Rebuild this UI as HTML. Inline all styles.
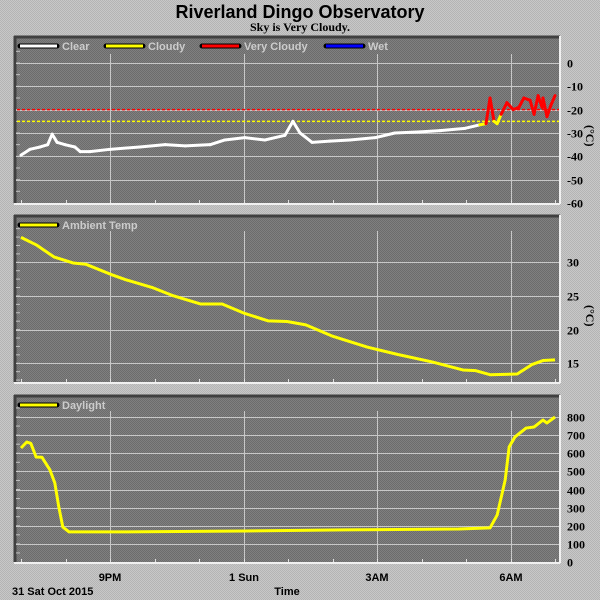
<!DOCTYPE html>
<html><head><meta charset="utf-8"><style>
html,body{margin:0;padding:0;background:#c0c0c0}
svg{display:block}
.lbl{font-family:"Liberation Serif",serif;font-weight:bold;font-size:12px;fill:#000}
.leg{font-family:"Liberation Sans",sans-serif;font-weight:bold;font-size:11px;fill:#cccccc}
.ax{font-family:"Liberation Sans",sans-serif;font-weight:bold;font-size:11px;fill:#000}
</style></head><body>
<svg id="chart" width="600" height="600" xmlns="http://www.w3.org/2000/svg">
<defs><pattern id="dith" width="2" height="2" patternUnits="userSpaceOnUse"><rect width="2" height="2" fill="#808080"/><rect width="1" height="1" fill="#6c6c6c"/><rect x="1" y="1" width="1" height="1" fill="#6c6c6c"/></pattern>
<pattern id="bgd" width="2" height="2" patternUnits="userSpaceOnUse"><rect width="2" height="2" fill="#c8c8c8"/><rect width="1" height="1" fill="#b4b4b4"/><rect x="1" y="1" width="1" height="1" fill="#b4b4b4"/></pattern></defs>
<rect width="600" height="600" fill="url(#bgd)"/>
<text x="300" y="18" text-anchor="middle" style="font-family:'Liberation Sans',sans-serif;font-weight:bold;font-size:18px">Riverland Dingo Observatory</text>
<text x="300" y="31" text-anchor="middle" style="font-family:'Liberation Serif',serif;font-weight:bold;font-size:12px">Sky is Very Cloudy.</text>
<g id="layer"></g>
<text x="110" y="581" text-anchor="middle" class="ax">9PM</text>
<text x="244" y="581" text-anchor="middle" class="ax">1 Sun</text>
<text x="377" y="581" text-anchor="middle" class="ax">3AM</text>
<text x="511" y="581" text-anchor="middle" class="ax">6AM</text>
<text x="12" y="595" class="ax">31 Sat Oct 2015</text>
<text x="287" y="595" text-anchor="middle" class="ax">Time</text>
</svg>
<script>
const skyHours=[0,0.2,0.43,0.6,0.7,0.81,0.99,1.21,1.33,1.55,2,2.67,3.24,3.69,4.25,4.58,5.03,5.48,5.93,6.11,6.27,6.54,6.94,7.39,7.96,8.4,8.97,9.42,9.98,10.31,10.45,10.54,10.63,10.7,10.79,10.92,11.06,11.19,11.3,11.44,11.53,11.62,11.71,11.73,11.82,11.91,12];
const skyTemps=[-39.5,-37,-36,-35,-30.5,-34,-35,-36,-38,-38,-37,-36,-35,-35.5,-35,-33,-32,-33,-31,-25,-30,-34,-33.5,-33,-32,-30,-29.5,-29,-28,-26.5,-26,-15,-25,-26,-22,-17,-20,-19,-15,-16,-22,-14,-19,-15,-23,-18,-14];
const tempHours=[0,0.34,0.74,1.17,1.46,2.02,2.36,2.97,3.39,4.04,4.52,5.03,5.55,5.98,6.4,7.01,7.78,8.47,9.24,9.93,10.22,10.54,11.15,11.48,11.73,12];
const tempValues=[33.7,32.6,30.8,29.9,29.7,28.2,27.4,26.2,25.1,23.8,23.8,22.4,21.3,21.2,20.7,19.0,17.4,16.3,15.2,14.0,13.9,13.3,13.4,14.8,15.4,15.5];
const lightHours=[0,0.13,0.22,0.34,0.47,0.65,0.76,0.85,0.94,1.08,2.11,5.03,7.26,9.84,10.54,10.7,10.88,10.97,11.1,11.35,11.53,11.73,11.82,12];
const lightValues=[629,662,655,579,578,508,436,303,193,166,166,171,177,182,188,259,452,635,690,739,745,783,767,800];
const skyTicks=[0,-10,-20,-30,-40,-50,-60];
const tempTicks=[15,20,25,30];
const lightTicks=[0,100,200,300,400,500,600,700,800];
const gridHours=[2,5,8,11];
const NS="http://www.w3.org/2000/svg";
const layer=document.getElementById('layer');
function mk(tag,attrs,parent){const e=document.createElementNS(NS,tag);for(const k in attrs)e.setAttribute(k,attrs[k]);(parent||layer).appendChild(e);return e;}
const xL=14,xR=560;
function xs(h){return 21+h*44.5;}
function panel(top,bottom,yScale,ticks,minorStep,vmin,vmax,name,gTop){
  const g=mk('g',{});
  
  
  const r=mk('rect',{x:xL,y:top,width:xR-xL,height:bottom-top,fill:'url(#dith)'},g);
  
  
  mk('line',{x1:xL,y1:top+1,x2:xR,y2:top+1,stroke:'#404040','stroke-width':3},g);
  mk('line',{x1:xL+1,y1:top,x2:xL+1,y2:bottom,stroke:'#404040','stroke-width':3},g);
  mk('line',{x1:xR,y1:top,x2:xR,y2:bottom+1,stroke:'#f0f0f0','stroke-width':2},g);
  mk('line',{x1:xL,y1:bottom+1,x2:xR,y2:bottom+1,stroke:'#f0f0f0','stroke-width':2},g);
  for(let v=vmin;v<=vmax+1e-6;v+=minorStep){const y=yScale(v);if(y>top+3&&y<bottom-1)mk('line',{x1:xL+2,y1:y,x2:xL+6,y2:y,stroke:'#c0c0c0','stroke-width':1},g);}
  ticks.forEach(t=>{const y=Math.round(yScale(t))+0.5;
    if(y>top+3&&y<bottom-1){const gl=mk('line',{x1:xL+2,y1:y,x2:xR-1,y2:y,stroke:'#c8c8c8','stroke-width':1},g);
    
    }
    const tx=mk('text',{x:567,y:y+4,class:'lbl'},g);tx.textContent=String(t);
    
    });
  gridHours.forEach(h=>{const x=Math.round(xs(h))+0.5;mk('line',{x1:x,y1:gTop,x2:x,y2:bottom,stroke:'#c8c8c8','stroke-width':1},g);});
  for(let h=0;h<=12;h++){const x=Math.round(xs(h))+0.5;mk('line',{x1:x,y1:bottom-3,x2:x,y2:bottom,stroke:'#e0e0e0','stroke-width':1},g);}
  return g;
}
function legend(g,x,color,label,name){
  mk('line',{x1:x,y1:0,x2:x+37,y2:0,stroke:'#000','stroke-width':5,'stroke-linecap':'round'},g);
  const l2=mk('line',{x1:x,y1:0,x2:x+37,y2:0,stroke:color,'stroke-width':3},g);
  const t=mk('text',{x:x+42,y:4,class:'leg'},g);t.textContent=label;
  
  
  
  
}
const y1=v=>63+(-v)*2.333;
const p1=panel(36,203,y1,skyTicks,5,-60,5,'sky',54);
const lg1=mk('g',{transform:'translate(0,46)'},p1);
legend(lg1,20,'#ffffff','Clear','clear');legend(lg1,106,'#ffff00','Cloudy','cloudy');legend(lg1,202,'#ff0000','Very Cloudy','very-cloudy');legend(lg1,326,'#0000ff','Wet','wet');
const d1=mk('line',{x1:xL+3,y1:y1(-20),x2:xR-1,y2:y1(-20),stroke:'#ff0000','stroke-width':1.5,'stroke-dasharray':'3,2'},p1);


const d2=mk('line',{x1:xL+3,y1:y1(-25),x2:xR-1,y2:y1(-25),stroke:'#ffff00','stroke-width':1.5,'stroke-dasharray':'3,2'},p1);


for(let i=1;i<skyHours.length;i++){
  const m=(skyTemps[i]+skyTemps[i-1])/2;
  const c=m>=-21?'#ff0000':(m>=-26.5?'#ffff00':'#ffffff');
  const s=mk('line',{x1:xs(skyHours[i-1]),y1:y1(skyTemps[i-1]),x2:xs(skyHours[i]),y2:y1(skyTemps[i]),stroke:c,'stroke-width':3,'stroke-linecap':'round'},p1);
  
  
}
const u1=mk('text',{x:0,y:0,transform:'translate(586,125) rotate(90)',class:'lbl','font-size':'13'},p1);u1.textContent='(°C)';


const y2=v=>262.3+(30-v)*6.73;
const p2=panel(215,382,y2,tempTicks,1.25,12.5,35,'temp',231);
const lg2=mk('g',{transform:'translate(0,225)'},p2);
legend(lg2,20,'#ffff00','Ambient Temp','ambient-temp');
const tp=mk('polyline',{points:tempHours.map((h,i)=>xs(h)+','+y2(tempValues[i])).join(' '),fill:'none',stroke:'#ffff00','stroke-width':3,'stroke-linejoin':'round'},p2);


const u2=mk('text',{x:0,y:0,transform:'translate(586,305) rotate(90)',class:'lbl','font-size':'13'},p2);u2.textContent='(°C)';


const y3=v=>562-v*0.18125;
const p3=panel(395,562,y3,lightTicks,50,0,850,'daylight',411);
const lg3=mk('g',{transform:'translate(0,405)'},p3);
legend(lg3,20,'#ffff00','Daylight','daylight');
const lp=mk('polyline',{points:lightHours.map((h,i)=>xs(h)+','+y3(lightValues[i])).join(' '),fill:'none',stroke:'#ffff00','stroke-width':3,'stroke-linejoin':'round'},p3);


</script>
</body></html>
